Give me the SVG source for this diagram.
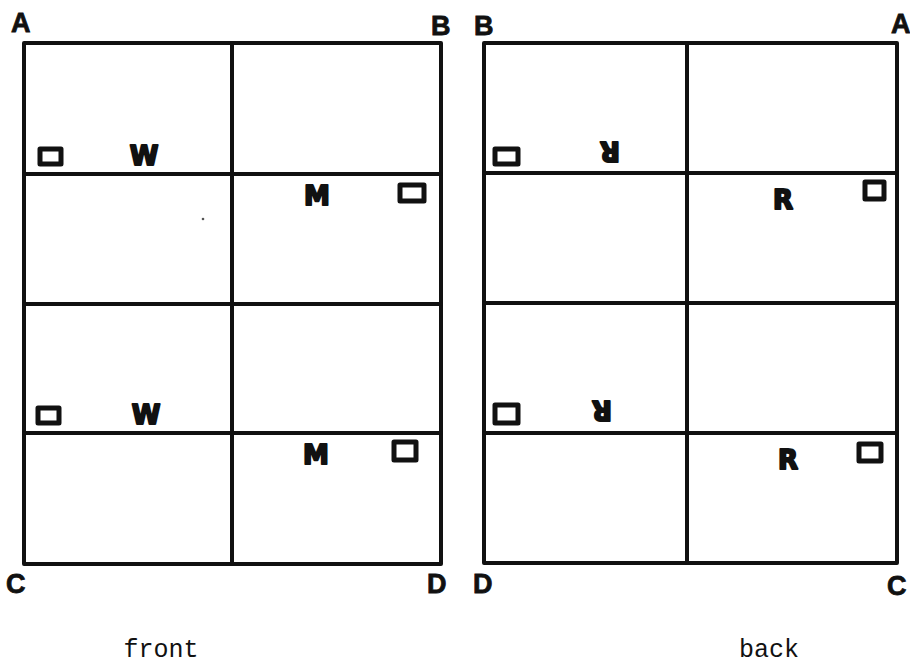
<svg xmlns="http://www.w3.org/2000/svg" width="910" height="666" viewBox="0 0 910 666">
<style>
.ln{fill:none;stroke:#111;stroke-width:4;stroke-linejoin:round;stroke-linecap:round}
.bx{fill:none;stroke:#111;stroke-width:5;stroke-linejoin:round}
.cn{font-family:"Liberation Sans",Arial,sans-serif;font-weight:bold;font-size:27px;fill:#111;stroke:#111;stroke-width:0.8}
.mk{font-family:"DejaVu Sans","Liberation Sans",sans-serif;font-weight:bold;font-size:26px;fill:#111;stroke:#111;stroke-width:2;stroke-linejoin:round;text-anchor:middle}
.cap{font-family:"Liberation Mono","Courier New",monospace;font-size:25px;fill:#111;text-anchor:middle}
</style>
<rect width="910" height="666" fill="#fff"/>

<g id="front">
  <rect class="ln" x="24" y="43" width="417" height="521"/>
  <line class="ln" x1="232" y1="43" x2="232" y2="564"/>
  <line class="ln" x1="24" y1="174" x2="441" y2="174"/>
  <line class="ln" x1="24" y1="304" x2="441" y2="304"/>
  <line class="ln" x1="24" y1="433" x2="441" y2="433"/>
  <text class="cn" x="11" y="32">A</text>
  <text class="cn" x="431" y="35">B</text>
  <text class="cn" x="6" y="593">C</text>
  <text class="cn" x="427" y="593">D</text>
  <rect class="bx" x="40" y="149" width="21" height="15"/>
  <text class="mk" x="144" y="165">W</text>
  <text class="mk" x="317" y="205">M</text>
  <rect class="bx" x="400" y="185" width="24" height="16"/>
  <rect class="bx" x="38" y="408" width="21" height="15"/>
  <text class="mk" x="146" y="424">W</text>
  <text class="mk" x="316" y="464">M</text>
  <rect class="bx" x="394" y="442" width="22" height="18"/>
  <circle cx="203" cy="219" r="1.3" fill="#555"/>
  <text class="cap" x="161" y="657">front</text>
</g>

<g id="back">
  <rect class="ln" x="484" y="43" width="413" height="520"/>
  <line class="ln" x1="687" y1="43" x2="687" y2="563"/>
  <line class="ln" x1="484" y1="173" x2="897" y2="173"/>
  <line class="ln" x1="484" y1="303" x2="897" y2="303"/>
  <line class="ln" x1="484" y1="433" x2="897" y2="433"/>
  <text class="cn" x="474" y="35">B</text>
  <text class="cn" x="891" y="33">A</text>
  <text class="cn" x="473" y="593">D</text>
  <text class="cn" x="887" y="595">C</text>
  <rect class="bx" x="495" y="149" width="23" height="15"/>
  <text class="mk" transform="translate(610,151) rotate(180)" x="0" y="9">R</text>
  <text class="mk" x="783" y="209">R</text>
  <rect class="bx" x="865" y="182" width="19" height="17"/>
  <rect class="bx" x="495" y="405" width="23" height="18"/>
  <text class="mk" transform="translate(602,410) rotate(180)" x="0" y="9">R</text>
  <text class="mk" x="788" y="469">R</text>
  <rect class="bx" x="859" y="444" width="22" height="17"/>
  <text class="cap" x="769" y="657">back</text>
</g>
</svg>
